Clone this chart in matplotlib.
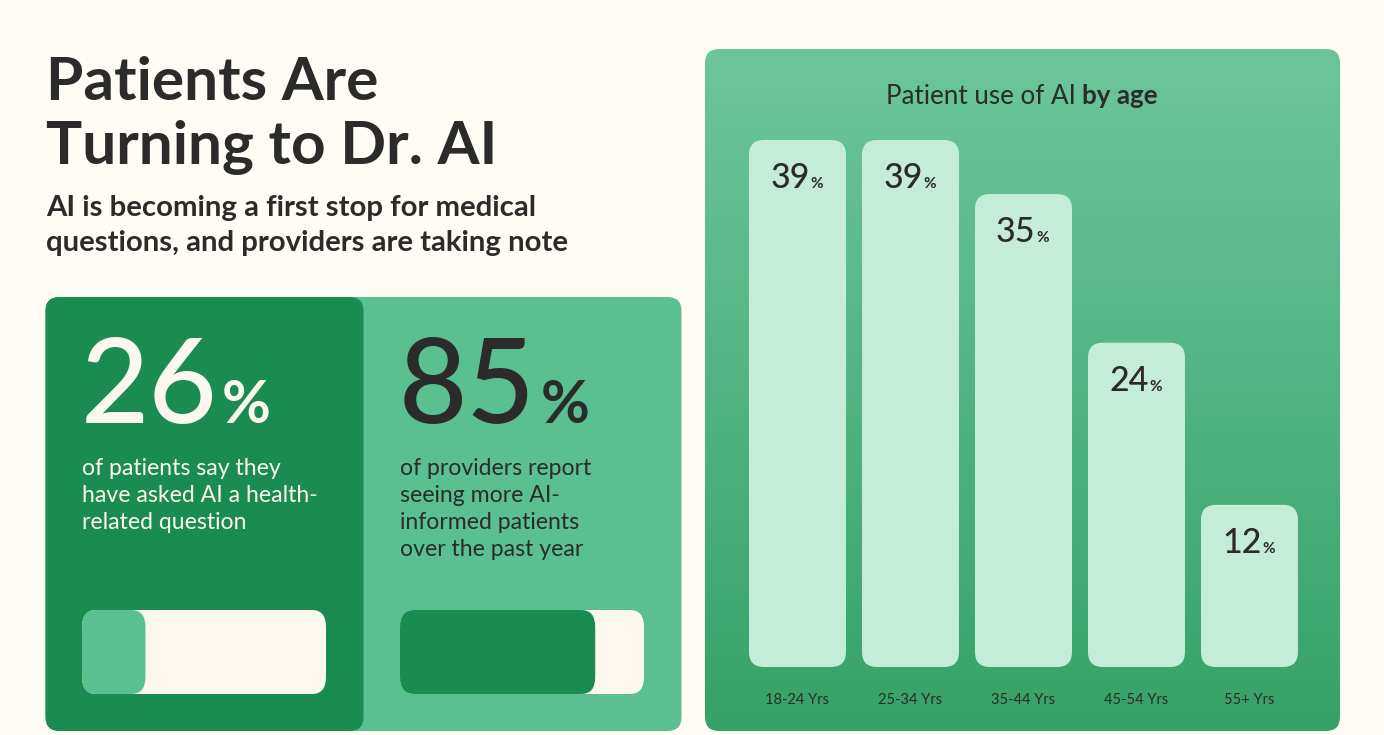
import numpy as np
import matplotlib
matplotlib.use("Agg")
import matplotlib.pyplot as plt
from matplotlib.patches import FancyBboxPatch
from matplotlib.colors import LinearSegmentedColormap

ages = ["18-24 Yrs", "25-34 Yrs", "35-44 Yrs", "45-54 Yrs", "55+ Yrs"]
age_values = [39, 39, 35, 24, 12]
patient_share = 26
provider_share = 85
gauge_labels = ["patients", "providers"]
gauge_values = [26, 80]   # filled length as drawn in the reference
patient_text = ["of patients say they", "have asked AI a health-", "related question"]
provider_text = ["of providers report", "seeing more AI-", "informed patients", "over the past year"]

W, H = 1384, 735
BG = "#FFFCF5"; DARK = "#1A8C4F"; MID = "#5AC092"; PALE = "#C5EBD9"; CREAM = "#FCF8EE"; INK = "#2B2B2B"
plt.rcParams["font.family"] = ["Lato", "DejaVu Sans"]

fig = plt.figure(figsize=(W/100, H/100), dpi=100, facecolor=BG)
bg = fig.add_axes([0, 0, 1, 1]); bg.set_xlim(0, W); bg.set_ylim(H, 0); bg.axis("off")

def rr(ax, x, y, w, h, rx, ry, color, z=1):
    """Rounded box in ax's data units; rx, ry are the corner radii in data units."""
    p = FancyBboxPatch((x, y), w, h, boxstyle=f"round,pad=0,rounding_size={rx}",
                       mutation_aspect=ry/rx, fc=color, ec="none", zorder=z)
    ax.add_patch(p)
    return p

def t(x, y, s, size, color=INK, weight="normal", **k):
    return bg.text(x, y, s, fontsize=size, color=color, fontweight=weight, va="baseline", **k)

def sub_axes(x0, y0, x1, y1):
    a = fig.add_axes([x0/W, 1-y1/H, (x1-x0)/W, (y1-y0)/H])
    a.axis("off"); a.patch.set_alpha(0)
    return a

# Heading
t(46, 100, "Patients Are", 43.5, weight="bold")
t(46, 164, "Turning to Dr. AI", 43.5, weight="bold")
t(46, 216, "AI is becoming a first stop for medical", 21.2, weight="bold")
t(46, 251, "questions, and providers are taking note", 21.2, weight="bold")

# Left panels
rr(bg, 45.5, 297, 636, 434, 14, 14, MID, 1)
rr(bg, 45.5, 297, 318, 434, 14, 14, DARK, 2)

t(81, 423, str(patient_share), 85, color=CREAM, weight="medium", zorder=3)
t(222, 423, "%", 43, color=CREAM, weight="bold", zorder=3)
t(399, 423, str(provider_share), 85, color=INK, weight="medium", zorder=3)
t(541, 423, "%", 43, color=INK, weight="bold", zorder=3)
for i, s in enumerate(patient_text):
    t(82, 475+27*i, s, 16.6, color=CREAM, zorder=3)
for i, s in enumerate(provider_text):
    t(400, 475+27*i, s, 16.6, color=INK, zorder=3)

# Gauges: axes scaled 0-100 percent
for x0, val, fill in [(82, gauge_values[0], MID), (400, gauge_values[1], DARK)]:
    g = sub_axes(x0, 610, x0+244, 694)
    g.set_xlim(0, 100); g.set_ylim(0, 1)
    rx, ry = 14/2.44, 17/84
    rr(g, 0, 0, 100, 1, rx, ry, CREAM, 3)
    rr(g, 0, 0, val, 1, rx, ry, fill, 4)

# Right panel with gradient
grad = LinearSegmentedColormap.from_list("g", ["#6CC69C", "#36A267"])
im = bg.imshow(np.linspace(0, 1, 256).reshape(-1, 1), cmap=grad, extent=(705, 1340, 731, 49), aspect="auto", zorder=1)
clip = rr(bg, 705, 49, 635, 682, 14, 14, "none", 1)
im.set_clip_path(clip)
bg.set_xlim(0, W); bg.set_ylim(H, 0)

t(886, 104, "Patient use of AI ", 18.7, zorder=3)
t(1082, 104, "by age", 18.7, weight="bold", zorder=3)

# Bars: axes scaled on category index and on the percentage
ax = sub_axes(741, 140, 1354, 667)
ax.set_xlim(-0.5, 4.925); ax.set_ylim(0, 39)
ppu_x = (1354-741)/5.425; ppu_y = 527/39
bar_w = 97/ppu_x
for i, (lab, v) in enumerate(zip(ages, age_values)):
    rr(ax, i-bar_w/2, 0, bar_w, v, 15/ppu_x, 15/ppu_y, PALE, 3)
    ax.annotate(str(v), (i, v), xytext=(12, -48), textcoords="offset pixels", ha="right",
                fontsize=24.5, color=INK, fontweight="medium", va="baseline", annotation_clip=False, zorder=4)
    ax.annotate("%", (i, v), xytext=(13, -48), textcoords="offset pixels",
                fontsize=11, color=INK, fontweight="bold", va="baseline", annotation_clip=False, zorder=4)
    ax.annotate(lab, (i, 0), xytext=(0, -37), textcoords="offset pixels", ha="center",
                fontsize=10.5, color=INK, va="baseline", annotation_clip=False, zorder=4)

fig.savefig("out.png", dpi=100, facecolor=BG)
